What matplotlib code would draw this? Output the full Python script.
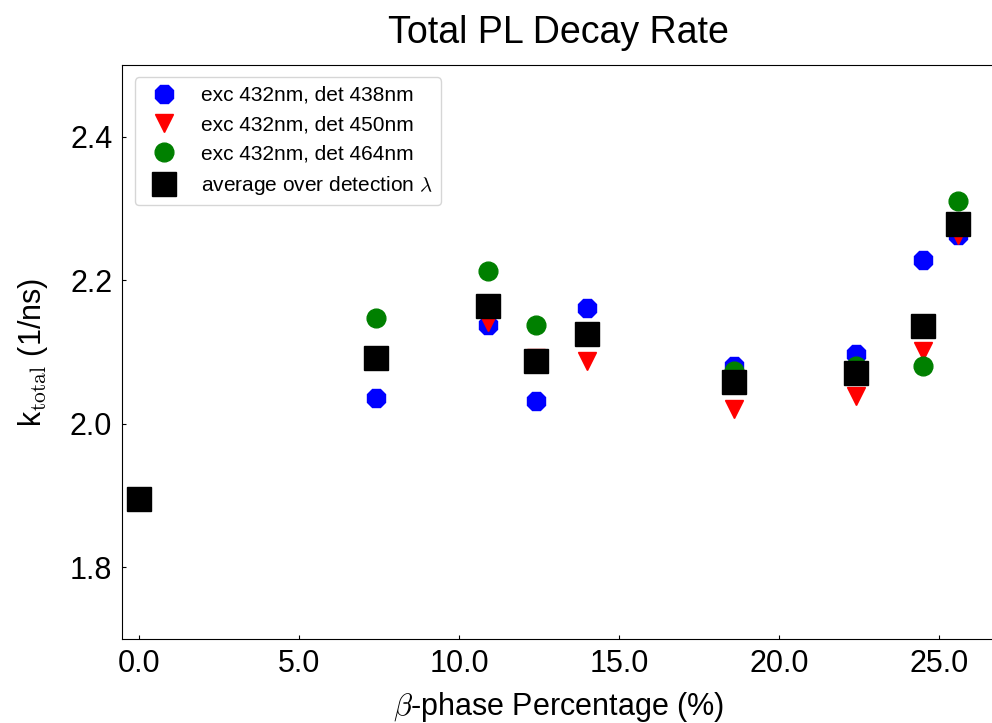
import numpy as np
import matplotlib
matplotlib.use('Agg')
import matplotlib.pyplot as plt
from matplotlib.ticker import FormatStrFormatter, MultipleLocator

### data
beta_pct = [7.4, 10.9, 12.4, 14.0, 18.6, 22.4, 24.5, 25.6]     # beta-phase percentage (%)
k_438 = [2.036, 2.137, 2.032, 2.161, 2.080, 2.097, 2.228, 2.263]  # exc 432nm, det 438nm
k_450 = [2.093, 2.142, 2.091, 2.088, 2.021, 2.038, 2.102, 2.263]  # exc 432nm, det 450nm
k_464 = [2.147, 2.213, 2.137, 2.125, 2.074, 2.080, 2.080, 2.311]  # exc 432nm, det 464nm

avg_x = [0.0, 7.4, 10.9, 12.4, 14.0, 18.6, 22.4, 24.5, 25.6]
avg_k = [1.895, 2.092, 2.164, 2.087, 2.125, 2.058, 2.071, 2.136, 2.279]

labels = ['exc 432nm, det 438nm', 'exc 432nm, det 450nm',
          'exc 432nm, det 464nm', r'average over detection $\lambda$']

plt.rcParams['font.family'] = ['Liberation Sans', 'DejaVu Sans']
plt.rcParams['mathtext.fontset'] = 'cm'

fig = plt.figure(figsize=(9.92, 7.23), dpi=100)
ax = fig.add_axes([0.123, 0.1162, 0.880, 0.7939])

ax.plot(beta_pct, k_438, '8', color='blue', ms=13.5, ls='none', label=labels[0])
ax.plot(beta_pct, k_450, 'v', color='red', ms=13.5, ls='none', label=labels[1])
ax.plot(beta_pct, k_464, 'o', color='green', ms=13.5, ls='none', label=labels[2])
ax.plot(avg_x, avg_k, 's', color='black', ms=17, ls='none', label=labels[3])

ax.set_xlim(-0.53, 26.75)
ax.set_ylim(1.7, 2.5)
ax.xaxis.set_major_locator(MultipleLocator(5))
ax.yaxis.set_major_locator(MultipleLocator(0.2))
ax.xaxis.set_major_formatter(FormatStrFormatter('%.1f'))
ax.yaxis.set_major_formatter(FormatStrFormatter('%.1f'))
ax.tick_params(direction='in', length=3, labelsize=22, pad=7)

ax.set_title('Total PL Decay Rate', fontsize=27, pad=16)
ax.set_xlabel(r'$\beta$-phase Percentage (%)', fontsize=22, labelpad=8)
ax.set_ylabel(r'k$_{\rm total}$ (1/ns)', fontsize=22, labelpad=14)

ax.legend(loc='upper left', fontsize=15, numpoints=1, borderaxespad=0.6)

fig.savefig('out.png', dpi=100)
